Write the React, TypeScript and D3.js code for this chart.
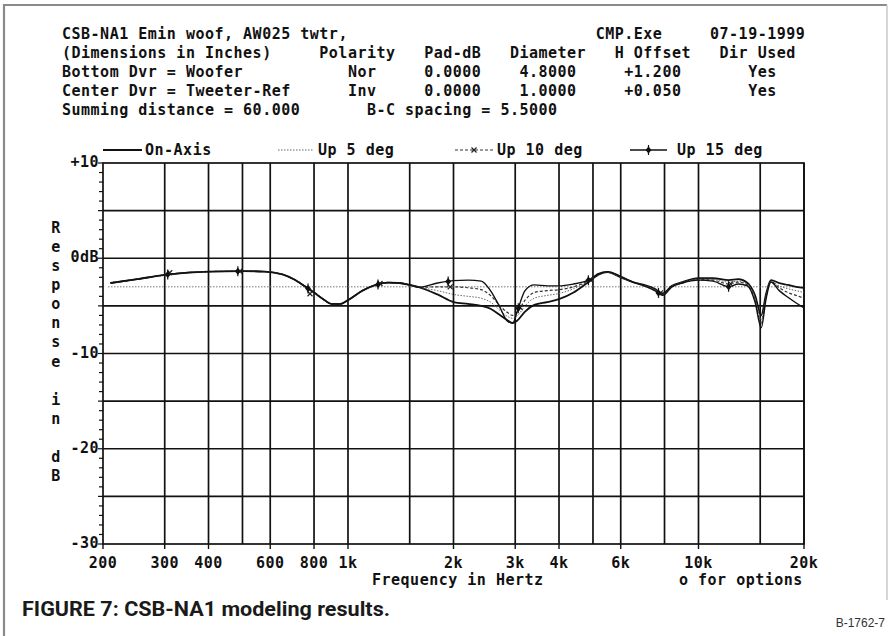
import React from "react";
import * as d3 from "d3";

// ---- axis data ----
const FREQ_TICKS = [200, 300, 400, 600, 800, 1000, 2000, 3000, 4000, 6000, 10000, 20000];
const FREQ_TICK_LABELS = ["200", "300", "400", "600", "800", "1k", "2k", "3k", "4k", "6k", "10k", "20k"];
const GRID_FREQS = [300, 400, 500, 600, 800, 1000, 1500, 2000, 3000, 4000, 5000, 6000, 8000, 10000, 15000, 20000];
const DB_TICKS = [10, 0, -10, -20, -30];
const DB_TICK_LABELS = ["+10", "0dB", "-10", "-20", "-30"];
const DB_GRID = [5, 0, -5, -10, -15, -20, -25];
const REF_DB = -3;

// ---- series data (shared low-frequency part) ----
const freqLow = [210, 250, 300, 350, 400, 500, 580, 650, 700, 750, 800, 850, 900, 950, 1000, 1100, 1200, 1300, 1400, 1500, 1600];
const dbLow = [-2.6, -2.2, -1.75, -1.5, -1.4, -1.35, -1.4, -1.7, -2.2, -2.9, -3.6, -4.3, -4.8, -4.8, -4.4, -3.4, -2.8, -2.55, -2.6, -2.8, -3.05];

// ---- series data (high-frequency part, per series) ----
const freqHigh = [1800, 2000, 2200, 2400, 2550, 2700, 2850, 2950, 3050, 3200, 3400, 3700, 4000, 4400, 4850, 5200, 5500, 6000, 6500, 7000, 7500, 7900, 8400, 9000, 10000, 11000, 12200, 13000, 13800, 14500, 15100, 15600, 16100, 17000, 18000, 19000, 20000];
const onAxisHigh = [-3.8, -4.6, -4.8, -5.0, -5.3, -5.9, -6.5, -6.8, -6.5, -5.6, -4.9, -4.6, -4.3, -3.6, -2.5, -1.7, -1.45, -2.0, -2.5, -2.8, -3.2, -3.7, -2.9, -2.5, -2.1, -2.1, -2.3, -2.2, -2.6, -3.9, -6.0, -3.7, -2.3, -2.6, -2.8, -3.0, -3.1];
const up5High = [-3.4, -3.8, -4.0, -4.2, -4.6, -5.4, -6.1, -6.3, -6.0, -5.0, -4.2, -3.9, -3.7, -3.2, -2.4, -1.65, -1.45, -2.0, -2.5, -2.85, -3.3, -3.8, -2.95, -2.55, -2.2, -2.2, -2.5, -2.4, -2.7, -4.2, -6.5, -3.9, -2.4, -2.9, -3.2, -3.4, -3.6];
const up10High = [-3.0, -3.0, -3.1, -3.3, -3.9, -4.9, -5.7, -6.0, -5.6, -4.4, -3.6, -3.4, -3.3, -3.0, -2.35, -1.6, -1.4, -1.95, -2.5, -2.9, -3.35, -3.85, -3.0, -2.6, -2.25, -2.3, -2.7, -2.5, -2.8, -4.4, -6.9, -4.0, -2.45, -3.1, -3.6, -3.9, -4.2];
const up15High = [-2.6, -2.35, -2.3, -2.4, -3.4, -5.0, -6.6, -6.8, -5.4, -3.4, -2.8, -2.9, -2.9, -2.7, -2.3, -1.6, -1.4, -1.9, -2.5, -2.9, -3.4, -3.9, -3.0, -2.6, -2.3, -2.4, -3.0, -2.7, -2.9, -4.6, -7.3, -4.2, -2.5, -3.4, -4.1, -4.7, -5.2];
const markerFreqs = [306, 485, 769, 1218, 1931, 3061, 4851, 7689, 12187];

const SERIES_NAMES = ["On-Axis", "Up 5 deg", "Up 10 deg", "Up 15 deg"];

// ---- header text rows: [column, text] ----
const HEADER_ROWS: [number, string][][] = [
  [[0, "CSB-NA1 Emin woof, AW025 twtr,"], [56, "CMP.Exe"], [68, "07-19-1999"]],
  [[0, "(Dimensions in Inches)"], [27, "Polarity"], [38, "Pad-dB"], [47, "Diameter"], [58, "H Offset"], [69, "Dir Used"]],
  [[0, "Bottom Dvr = Woofer"], [30, "Nor"], [38, "0.0000"], [48, "4.8000"], [59, "+1.200"], [72, "Yes"]],
  [[0, "Center Dvr = Tweeter-Ref"], [30, "Inv"], [38, "0.0000"], [48, "1.0000"], [59, "+0.050"], [72, "Yes"]],
  [[0, "Summing distance = 60.000"], [32, "B-C spacing = 5.5000"]],
];
const Y_TITLE = "Response in dB";

const MONO = "'DejaVu Sans Mono', 'Liberation Mono', monospace";

export default function App() {
  const W = 890, H = 636;
  const left = 103, right = 804, top = 163, bottom = 544;
  const x = d3.scaleLog().domain([200, 20000]).range([left, right]);
  const y = d3.scaleLinear().domain([-30, 10]).range([bottom, top]);

  const charW = 9.53;
  const col0 = 62;
  const rowBase = [38.5, 57.5, 76.5, 95.5, 114.5];

  const mk = (hi: number[]) => freqLow.map((f, i) => [f, dbLow[i]] as [number, number]).concat(freqHigh.map((f, i) => [f, hi[i]] as [number, number]));
  const seriesData = [mk(onAxisHigh), mk(up5High), mk(up10High), mk(up15High)];
  const line = d3.line<[number, number]>().x(d => x(d[0])).y(d => y(d[1])).curve(d3.curveMonotoneX);

  const styles = [
    { stroke: "#111", width: 1.8, dash: "" },
    { stroke: "#666", width: 1, dash: "1.5 1.5" },
    { stroke: "#333", width: 1.2, dash: "3 2" },
    { stroke: "#111", width: 1.4, dash: "" },
  ];

  const interp = (data: [number, number][], f: number) => {
    const xs = data.map(d => Math.log10(d[0]));
    const lf = Math.log10(f);
    for (let i = 0; i < xs.length - 1; i++) {
      if (lf >= xs[i] && lf <= xs[i + 1]) {
        const t = (lf - xs[i]) / (xs[i + 1] - xs[i]);
        return data[i][1] + t * (data[i + 1][1] - data[i][1]);
      }
    }
    return data[data.length - 1][1];
  };

  const minorTicks = d3.range(-30, 11, 1);

  const legendY = 150;
  const legendItems = [
    { x1: 103, x2: 142, tx: 145 },
    { x1: 278, x2: 313, tx: 318 },
    { x1: 455, x2: 493, tx: 497 },
    { x1: 630, x2: 667, tx: 677 },
  ];

  const xMark = (cx: number, cy: number, k: string) => (
    <path key={k} d={`M${cx - 2.5},${cy - 2.5}L${cx + 2.5},${cy + 2.5}M${cx - 2.5},${cy + 2.5}L${cx + 2.5},${cy - 2.5}`} stroke="#222" strokeWidth={1.2} />
  );
  const plusMark = (cx: number, cy: number, k: string) => (
    <g key={k}>
      <path d={`M${cx},${cy - 3.5}L${cx + 3},${cy}L${cx},${cy + 3.5}L${cx - 3},${cy}Z`} fill="#111" />
      <path d={`M${cx},${cy - 5}L${cx},${cy + 5}`} stroke="#111" strokeWidth={1.2} />
    </g>
  );

  return (
    <svg width={W} height={H} style={{ position: "absolute", left: 0, top: 0, background: "#fff" }}>
      <rect x={0} y={0} width={W} height={H} fill="#fff" />
      {/* frame */}
      <path d={`M4,${H}L4,5L887,5`} fill="none" stroke="#8a8a8a" strokeWidth={2.2} />
      <path d={`M887,5L887,600`} fill="none" stroke="#c8c8c8" strokeWidth={1.5} />

      {/* header */}
      <g fontFamily={MONO} fontWeight="bold" fontSize={15} letterSpacing={0.5} fill="#111">
        {HEADER_ROWS.map((row, r) =>
          row.map(([c, t], j) => (
            <text key={`h${r}-${j}`} x={col0 + c * charW} y={rowBase[r]} style={{ whiteSpace: "pre" }}>{t}</text>
          ))
        )}
      </g>

      {/* legend */}
      <g fontFamily={MONO} fontWeight="bold" fontSize={15} letterSpacing={0.5} fill="#111">
        {legendItems.map((it, i) => (
          <g key={`lg${i}`}>
            <line x1={it.x1} x2={it.x2} y1={legendY} y2={legendY} stroke={styles[i].stroke} strokeWidth={styles[i].width} strokeDasharray={styles[i].dash} />
            {i === 2 && xMark((it.x1 + it.x2) / 2, legendY, "lgx")}
            {i === 3 && plusMark((it.x1 + it.x2) / 2, legendY, "lgp")}
            <text x={it.tx} y={legendY + 5}>{SERIES_NAMES[i]}</text>
          </g>
        ))}
      </g>

      {/* grid */}
      <g stroke="#111" strokeWidth={1.7}>
        {GRID_FREQS.map(f => (
          <line key={`gv${f}`} x1={x(f)} x2={x(f)} y1={top} y2={bottom} />
        ))}
        {DB_GRID.map(v => (
          <line key={`gh${v}`} x1={left} x2={right} y1={y(v)} y2={y(v)} />
        ))}
        <rect x={left} y={top} width={right - left} height={bottom - top} fill="none" />
        {minorTicks.map(v => (
          <line key={`mt${v}`} x1={left - (v % 5 === 0 ? 5 : 4)} x2={left} y1={y(v)} y2={y(v)} strokeWidth={1.2} />
        ))}
        {FREQ_TICKS.map(f => (
          <line key={`xt${f}`} x1={x(f)} x2={x(f)} y1={bottom} y2={bottom + 5} strokeWidth={1.4} />
        ))}
      </g>

      {/* -3 dB reference */}
      <line x1={left + 5} x2={right} y1={y(REF_DB)} y2={y(REF_DB)} stroke="#777" strokeWidth={1} strokeDasharray="1.5 1.5" />

      {/* curves */}
      <g fill="none">
        {seriesData.map((d, i) => (
          <path key={`s${i}`} d={line(d) || ""} stroke={styles[i].stroke} strokeWidth={styles[i].width} strokeDasharray={styles[i].dash} />
        ))}
      </g>
      {markerFreqs.map((f, i) => xMark(x(f) + 2, y(interp(seriesData[2], f + 40)), `mx${i}`))}
      {markerFreqs.map((f, i) => plusMark(x(f), y(interp(seriesData[3], f)), `mp${i}`))}

      {/* axis labels */}
      <g fontFamily={MONO} fontWeight="bold" fontSize={15} letterSpacing={0.5} fill="#111">
        {DB_TICKS.map((v, i) => (
          <text key={`yl${v}`} x={99} y={y(v) + 4} textAnchor="end">{DB_TICK_LABELS[i]}</text>
        ))}
        {FREQ_TICKS.map((f, i) => (
          <text key={`xl${f}`} x={x(f)} y={568} textAnchor="middle">{FREQ_TICK_LABELS[i]}</text>
        ))}
        <text x={372} y={585}>Frequency in Hertz</text>
        <text x={679} y={585}>o for options</text>
        {Y_TITLE.split("").map((ch, i) => (
          <text key={`yt${i}`} x={56} y={233 + i * 19.08} textAnchor="middle">{ch}</text>
        ))}
      </g>

      {/* caption */}
      <text x={22} y={616} fontFamily="Roboto, 'Liberation Sans', sans-serif" fontWeight="bold" fontSize={21} fill="#1a1a1a" textLength={368} lengthAdjust="spacingAndGlyphs">FIGURE 7: CSB-NA1 modeling results.</text>
      <text x={885} y={627} textAnchor="end" fontFamily="'Liberation Sans', Arial, sans-serif" fontSize={12} fill="#333">B-1762-7</text>
    </svg>
  );
}
